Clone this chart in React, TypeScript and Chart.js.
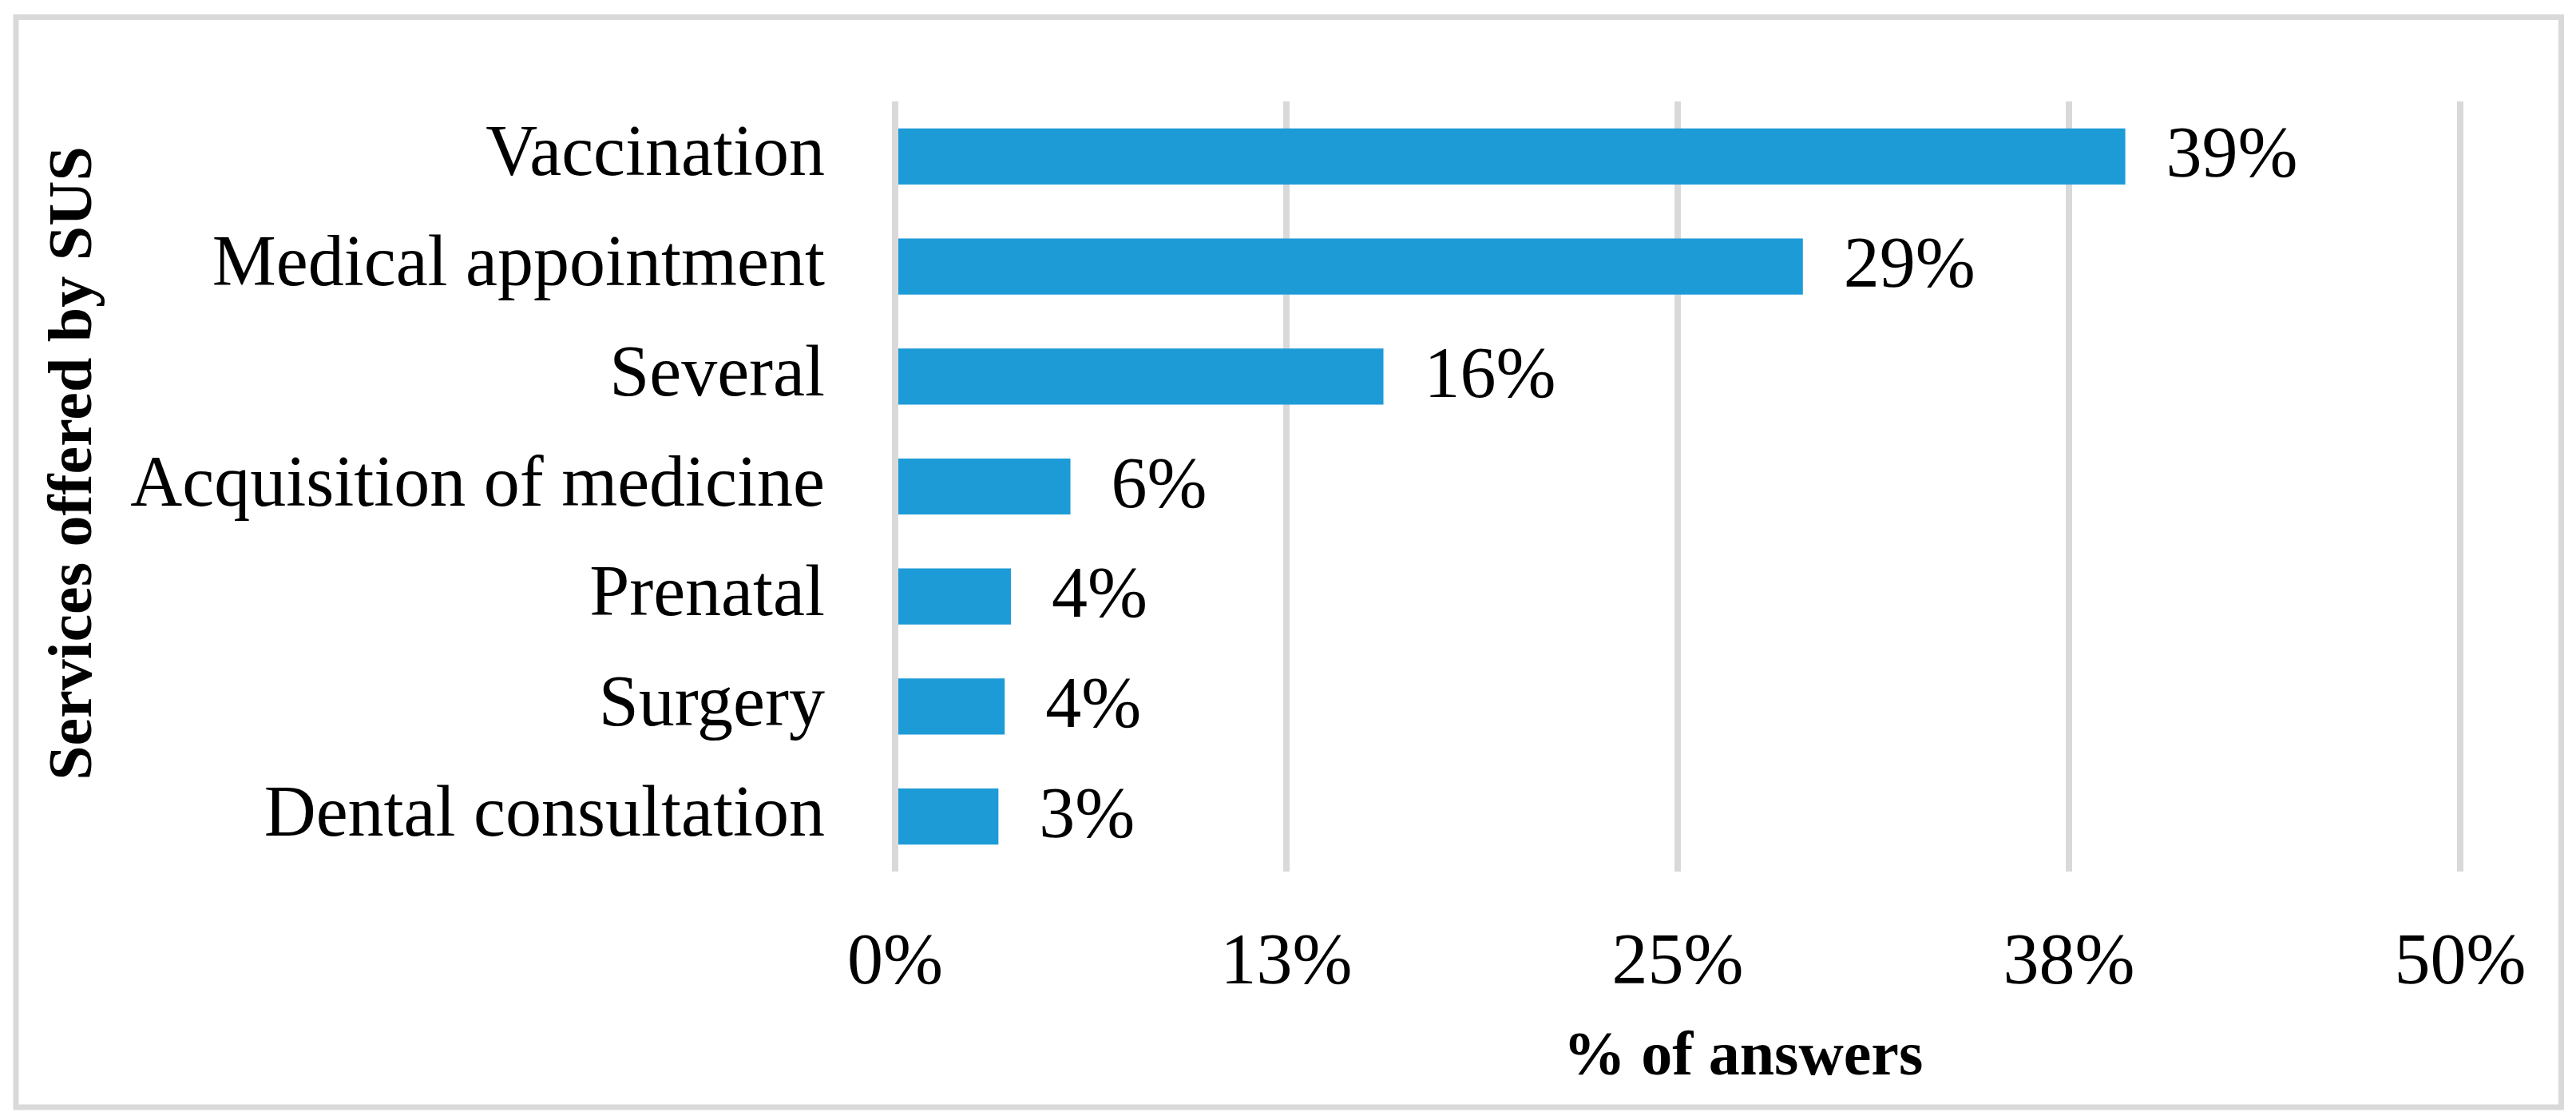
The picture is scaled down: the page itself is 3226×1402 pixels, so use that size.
import React, { useEffect, useRef } from "react";
import { Chart, registerables } from "chart.js";

Chart.register(...registerables);

const categories = [
  "Vaccination",
  "Medical appointment",
  "Several",
  "Acquisition of medicine",
  "Prenatal",
  "Surgery",
  "Dental consultation",
];
const shareOfAnswers = [39.3, 29.0, 15.6, 5.6, 3.7, 3.5, 3.3];
const xTickStep = 12.5;
const xMax = 50;
const xTitle = "% of answers";
const yTitle = "Services offered by SUS";

const W = 3226;
const H = 1402;
const FONT = "'Liberation Serif', 'Times New Roman', serif";

const decorPlugin = {
  id: "decor",
  beforeDraw(chart: any) {
    const ctx = chart.ctx;
    ctx.save();
    ctx.fillStyle = "#ffffff";
    ctx.fillRect(0, 0, chart.width, chart.height);
    ctx.strokeStyle = "#d9d9d9";
    ctx.lineWidth = 7;
    ctx.strokeRect(20, 21.5, 3187.5, 1364.5);
    ctx.restore();
  },
  afterDatasetsDraw(chart: any) {
    const ctx = chart.ctx;
    const meta = chart.getDatasetMeta(0);
    ctx.save();
    ctx.fillStyle = "#000000";
    ctx.font = `90px ${FONT}`;
    ctx.textAlign = "left";
    ctx.textBaseline = "middle";
    meta.data.forEach((bar: any, i: number) => {
      const v = shareOfAnswers[i];
      ctx.fillText(Math.round(v) + "%", bar.x + 51, bar.y + 2);
    });
    ctx.restore();
  },
  afterDraw(chart: any) {
    const ctx = chart.ctx;
    ctx.save();
    ctx.fillStyle = "#000000";
    ctx.font = `bold 78px ${FONT}`;
    ctx.textBaseline = "alphabetic";
    ctx.textAlign = "center";
    ctx.fillText(xTitle, 2183, 1345);
    ctx.translate(114, 580);
    ctx.rotate(-Math.PI / 2);
    ctx.fillText(yTitle, 0, 0);
    ctx.restore();
  },
};

export default function App() {
  const ref = useRef<HTMLCanvasElement | null>(null);

  useEffect(() => {
    if (!ref.current) return;
    const chart = new Chart(ref.current, {
      type: "bar",
      data: {
        labels: categories,
        datasets: [
          {
            data: shareOfAnswers,
            backgroundColor: "#1d9bd7",
            borderWidth: 0,
            categoryPercentage: 1,
            barPercentage: 0.51,
          },
        ],
      },
      options: {
        indexAxis: "y",
        responsive: false,
        animation: false,
        devicePixelRatio: 1,
        layout: { padding: { left: 0, top: 127, right: 145, bottom: 0 } },
        plugins: {
          legend: { display: false },
          tooltip: { enabled: false },
          title: { display: false },
        },
        scales: {
          x: {
            type: "linear",
            min: 0,
            max: xMax,
            afterFit(scale: any) {
              scale.height = 311;
              scale.paddingLeft = 0;
              scale.paddingRight = 0;
            },
            ticks: {
              stepSize: xTickStep,
              padding: 62,
              color: "#000000",
              font: { family: FONT, size: 90 },
              callback: (v: any) => Math.round(Number(v)) + "%",
            },
            grid: {
              color: "#d9d9d9",
              lineWidth: 8,
              drawTicks: false,
            },
            border: { display: false },
          },
          y: {
            afterFit(scale: any) {
              scale.width = 1121;
              scale.paddingTop = 0;
              scale.paddingBottom = 0;
            },
            ticks: {
              padding: 88,
              color: "#000000",
              font: { family: FONT, size: 90 },
            },
            grid: { display: false, drawTicks: false },
            border: { display: false },
          },
        },
      },
      plugins: [decorPlugin],
    });
    return () => chart.destroy();
  }, []);

  return (
    <div style={{ position: "fixed", left: 0, top: 0, width: W, height: H, background: "#fff" }}>
      <canvas ref={ref} width={W} height={H} style={{ display: "block", width: W, height: H }} />
    </div>
  );
}
